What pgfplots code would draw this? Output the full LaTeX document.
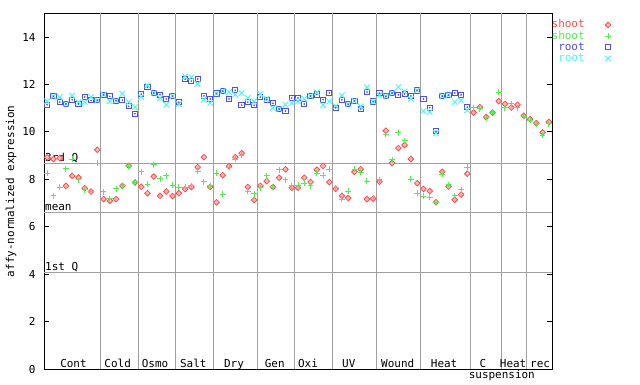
\documentclass[border=0pt]{standalone}
\usepackage{pgfplots}
\pgfplotsset{compat=1.18}
\usepackage{pgfplotstable}
\usepackage{fontspec}
\setmainfont{DejaVu Sans Mono}
\definecolor{cred}{HTML}{FF4D4D}
\definecolor{cgreen}{HTML}{4DF04D}
\definecolor{cblue}{HTML}{4D4DF0}
\definecolor{ccyan}{HTML}{4DF5F5}
\definecolor{gridgray}{HTML}{A0A0A0}

\pgfplotstableread{
x red green
0.5 8.93 8.27
1.5 8.86 7.31
2.5 8.90 7.68
3.5 7.73 8.45
4.5 8.15 8.86
5.5 8.08 7.98
6.5 7.63 7.56
7.5 7.49 7.48
8.5 9.25 8.69
9.5 7.17 7.48
10.5 7.10 7.20
11.5 7.17 7.60
12.5 7.73 7.73
13.5 8.57 8.55
14.5 7.87 7.85
15.5 7.69 8.33
16.5 7.42 7.80
17.5 8.12 8.62
18.5 7.31 8.03
19.5 7.49 8.15
20.5 7.30 7.76
21.5 7.42 7.68
22.5 7.59 7.68
23.5 7.68 7.73
24.5 8.52 8.35
25.5 8.94 7.90
26.5 7.68 7.73
27.5 7.04 8.27
28.5 8.18 7.38
29.5 8.57 8.52
30.5 8.94 8.86
31.5 9.11 9.02
32.5 7.68 7.51
33.5 7.13 7.39
34.5 7.73 7.65
35.5 7.93 8.15
36.5 7.68 7.68
37.5 8.07 8.41
38.5 8.43 7.98
39.5 7.65 7.73
40.5 7.65 7.76
41.5 8.07 7.84
42.5 7.89 7.74
43.5 8.41 8.27
44.5 8.57 8.18
45.5 7.89 8.43
46.5 7.60 7.65
47.5 7.31 7.17
48.5 7.22 7.51
49.5 8.32 8.43
50.5 8.43 8.31
51.5 7.17 7.93
52.5 7.19 7.22
53.5 7.90 7.98
54.5 10.05 9.90
55.5 8.69 8.83
56.5 9.32 9.97
57.5 9.45 9.63
58.5 8.86 8.01
59.5 7.84 7.42
60.5 7.60 7.30
61.5 7.51 7.25
62.5 7.04 7.03
63.5 8.32 8.22
64.5 7.70 7.79
65.5 7.14 7.32
66.5 7.36 7.56
67.5 8.24 8.52
68.5 10.82 11.01
69.5 11.05 10.97
70.5 10.63 10.59
71.5 10.81 10.82
72.5 11.30 11.68
73.5 11.18 11.01
74.5 11.03 11.18
75.5 11.15 11.01
76.5 10.68 10.65
77.5 10.54 10.49
78.5 10.37 10.35
79.5 9.98 9.87
80.5 10.42 10.35
}\shoottab

\pgfplotstableread{
x blue cyan
0.5 11.15 11.29
1.5 11.50 11.50
2.5 11.26 11.47
3.5 11.18 11.18
4.5 11.36 11.53
5.5 11.18 11.25
6.5 11.47 11.26
7.5 11.33 11.47
8.5 11.34 11.33
9.5 11.56 11.58
10.5 11.50 11.29
11.5 11.32 11.32
12.5 11.34 11.61
13.5 11.08 11.26
14.5 10.77 11.05
15.5 11.60 11.47
16.5 11.88 11.96
17.5 11.64 11.64
18.5 11.57 11.43
19.5 11.39 11.15
20.5 11.51 11.51
21.5 11.26 11.18
22.5 12.23 12.34
23.5 12.14 12.31
24.5 12.23 12.02
25.5 11.52 11.36
26.5 11.39 11.22
27.5 11.62 11.62
28.5 11.72 11.72
29.5 11.39 11.68
30.5 11.76 11.57
31.5 11.13 11.64
32.5 11.26 11.43
33.5 11.13 11.29
34.5 11.47 11.61
35.5 11.36 11.39
36.5 11.21 11.01
37.5 10.97 10.97
38.5 10.88 11.15
39.5 11.43 11.22
40.5 11.43 11.29
41.5 11.18 11.39
42.5 11.52 11.52
43.5 11.58 11.67
44.5 11.36 11.13
45.5 11.64 11.29
46.5 11.02 11.08
47.5 11.35 11.54
48.5 11.17 11.17
49.5 11.31 11.31
50.5 10.97 11.08
51.5 11.68 11.88
52.5 11.28 11.28
53.5 11.63 11.55
54.5 11.50 11.50
55.5 11.64 11.64
56.5 11.56 11.89
57.5 11.60 11.71
58.5 11.52 11.39
59.5 11.75 11.75
60.5 11.39 10.88
61.5 11.02 10.84
62.5 10.03 9.95
63.5 11.51 11.51
64.5 11.55 11.55
65.5 11.64 11.26
66.5 11.56 11.33
67.5 11.05 10.91
}\roottab

\begin{document}
\begin{tikzpicture}[x=1bp,y=1bp]
\path[use as bounding box] (0,0) rectangle (640,384);
\begin{axis}[
  at={(44bp,14.7bp)}, anchor=south west,
  scale only axis, width=508bp, height=356bp,
  xmin=0, xmax=81, ymin=0, ymax=15,
  xtick=\empty,
  ytick={0,2,4,6,8,10,12,14},
  tick align=inside, major tick length=5bp,
  axis line style={line width=1bp},
  every tick/.style={black,line width=1bp},
  font=\fontsize{11}{13}\selectfont,
  /pgf/number format/assume math mode=true,
  yticklabel style={xshift=-5bp},
  ylabel={affy-normalized expression},
  ylabel style={at={(axis description cs:-0.065,0.5)}, anchor=center},
  clip=false,
  legend plot pos=right,
  legend cell align=right,
  legend style={at={(axis description cs:1,1)}, anchor=north west,
    xshift=-1bp, yshift=-7bp, draw=none, fill=none, inner sep=0pt,
    row sep=2.2bp, column sep=20bp,
    nodes={inner sep=0.5bp, text height=7bp, text depth=1bp},
    font=\fontsize{11}{13}\selectfont},
]
% group separators
\draw[gridgray, line width=1bp] (axis cs:9,0) -- (axis cs:9,15);
\draw[gridgray, line width=1bp] (axis cs:15,0) -- (axis cs:15,15);
\draw[gridgray, line width=1bp] (axis cs:21,0) -- (axis cs:21,15);
\draw[gridgray, line width=1bp] (axis cs:27,0) -- (axis cs:27,15);
\draw[gridgray, line width=1bp] (axis cs:34,0) -- (axis cs:34,15);
\draw[gridgray, line width=1bp] (axis cs:40,0) -- (axis cs:40,15);
\draw[gridgray, line width=1bp] (axis cs:46,0) -- (axis cs:46,15);
\draw[gridgray, line width=1bp] (axis cs:53,0) -- (axis cs:53,15);
\draw[gridgray, line width=1bp] (axis cs:60,0) -- (axis cs:60,15);
\draw[gridgray, line width=1bp] (axis cs:68,0) -- (axis cs:68,15);
\draw[gridgray, line width=1bp] (axis cs:73,0) -- (axis cs:73,15);
\draw[gridgray, line width=1bp] (axis cs:77,0) -- (axis cs:77,15);
% quartile lines
\draw[gridgray, line width=1bp] (axis cs:0,8.69) -- (axis cs:81,8.69);
\draw[gridgray, line width=1bp] (axis cs:0,6.62) -- (axis cs:81,6.62);
\draw[gridgray, line width=1bp] (axis cs:0,4.09) -- (axis cs:81,4.09);
\node[anchor=base west, inner sep=0pt, xshift=1bp, yshift=2bp] at (axis cs:0,8.69) {3rd Q};
\node[anchor=base west, inner sep=0pt, xshift=1bp, yshift=1.5bp] at (axis cs:0,6.62) {mean};
\node[anchor=base west, inner sep=0pt, xshift=1bp, yshift=1.5bp] at (axis cs:0,4.09) {1st Q};
% group labels
\node[anchor=base, inner sep=0pt, yshift=1.5bp] at (axis cs:4.7,0) {Cont};
\node[anchor=base, inner sep=0pt, yshift=1.5bp] at (axis cs:11.75,0) {Cold};
\node[anchor=base, inner sep=0pt, yshift=1.5bp] at (axis cs:17.7,0) {Osmo};
\node[anchor=base, inner sep=0pt, yshift=1.5bp] at (axis cs:23.8,0) {Salt};
\node[anchor=base, inner sep=0pt, yshift=1.5bp] at (axis cs:30.3,0) {Dry};
\node[anchor=base, inner sep=0pt, yshift=1.5bp] at (axis cs:36.8,0) {Gen};
\node[anchor=base, inner sep=0pt, yshift=1.5bp] at (axis cs:42.1,0) {Oxi};
\node[anchor=base, inner sep=0pt, yshift=1.5bp] at (axis cs:48.6,0) {UV};
\node[anchor=base, inner sep=0pt, yshift=1.5bp] at (axis cs:56.4,0) {Wound};
\node[anchor=base, inner sep=0pt, yshift=1.5bp] at (axis cs:63.8,0) {Heat};
\node[anchor=base, inner sep=0pt, yshift=1.5bp] at (axis cs:70.0,0) {C};
\node[anchor=base, inner sep=0pt, yshift=-9.5bp] at (axis cs:73.0,0) {suspension};
\node[anchor=base, inner sep=0pt, yshift=1.5bp] at (axis cs:74.8,0) {Heat};
\node[anchor=base, inner sep=0pt, yshift=1.5bp] at (axis cs:79.1,0) {rec};
% data
\addplot[only marks, mark=square*, mark size=2.0bp,
  mark options={rotate=45, draw=cred, fill=cred!40, line width=0.8bp}]
  table[x=x, y=red] {\shoottab};
\addlegendentry{\textcolor{cred}{shoot}}
\addplot[only marks, mark=+, mark size=2.9bp,
  mark options={draw=cgreen, line width=1bp}]
  table[x=x, y=green] {\shoottab};
\addlegendentry{\textcolor{cgreen}{shoot}}
\addplot[only marks, mark=square, mark size=2.6bp,
  mark options={draw=cblue, line width=1bp}]
  table[x=x, y=blue] {\roottab};
\addlegendentry{\textcolor{cblue}{root}}
\addplot[only marks, mark=x, mark size=3.9bp,
  mark options={draw=ccyan, line width=1bp}]
  table[x=x, y=cyan] {\roottab};
\addlegendentry{\textcolor{ccyan}{root}}
\addplot[only marks, forget plot, mark=*, mark size=0.6bp,
  mark options={draw=cblue, fill=cblue}]
  table[x=x, y=blue] {\roottab};
\end{axis}
\end{tikzpicture}
\end{document}
